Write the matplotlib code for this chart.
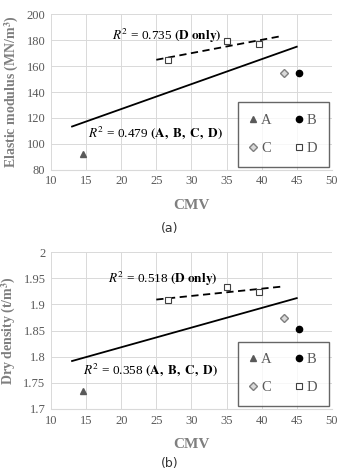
import matplotlib.pyplot as plt
import numpy as np

plt.rcParams['font.family'] = ['Liberation Serif', 'DejaVu Serif']
plt.rcParams['mathtext.fontset'] = 'stix'

# CMV per site
cmv_a = [14.6]
cmv_b = [45.3]
cmv_c = [43.2]
cmv_d = [26.6, 35.1, 39.6]

# elastic modulus (MN/m3)
ev_a = [92]
ev_b = [155]
ev_c = [155]
ev_d = [165, 179.5, 177]

# dry density (t/m3)
dd_a = [1.735]
dd_b = [1.853]
dd_c = [1.873]
dd_d = [1.908, 1.933, 1.923]

fit_all_range = [13, 45]
fit_d_range = [25, 43]

TICK_C = "#595959"
LABEL_C = "#7f7f7f"
GRID_C = "#d9d9d9"


def draw_panel(ax, ya, yb, yc, yd, ylim, yticks, ylabel, r2_d, r2_all, pos_d, pos_all):
    xs_all = cmv_a + cmv_b + cmv_c + cmv_d
    ys_all = ya + yb + yc + yd
    k, b = np.polyfit(xs_all, ys_all, 1)
    xr = np.array(fit_all_range)
    ax.plot(xr, k * xr + b, color="black", lw=1.3, zorder=2)
    kd, bd = np.polyfit(cmv_d, yd, 1)
    xr = np.array(fit_d_range)
    ax.plot(xr, kd * xr + bd, color="black", lw=1.3, ls=(0, (4, 2.5)), zorder=2)

    ha, = ax.plot(cmv_a, ya, "^", color="#595959", ms=5, ls="none", label="A", zorder=3)
    hb, = ax.plot(cmv_b, yb, "o", color="black", ms=4.5, ls="none", label="B", zorder=3)
    hc, = ax.plot(cmv_c, yc, "D", mfc="#d9d9d9", mec="#7f7f7f", ms=4, ls="none", label="C", zorder=3)
    hd, = ax.plot(cmv_d, yd, "s", mfc="white", mec="#404040", mew=0.8, ms=5, ls="none", label="D", zorder=3)

    ax.set_xlim(10, 50)
    ax.set_ylim(*ylim)
    ax.set_xticks(range(10, 51, 5))
    ax.set_yticks(yticks)
    ax.set_yticklabels([f"{v:g}" for v in yticks])
    ax.grid(True, color=GRID_C, lw=0.7)
    ax.set_axisbelow(True)
    for s in ["top", "right", "left"]:
        ax.spines[s].set_visible(False)
    ax.spines["bottom"].set_color(GRID_C)
    ax.tick_params(length=0, labelsize=9, colors=TICK_C, pad=4)
    ax.set_xlabel("CMV", fontsize=11, fontweight="bold", color=LABEL_C, labelpad=8)
    ax.set_ylabel(ylabel, fontsize=10, fontweight="bold", color=LABEL_C, labelpad=4)

    ax.text(pos_d[0], pos_d[1], r2_d, fontsize=9.5, va="center", ha="left")
    ax.text(pos_all[0], pos_all[1], r2_all, fontsize=9.5, va="center", ha="left")

    # column-wise fill: A C | B D gives rows A B / C D
    leg = ax.legend([ha, hc, hb, hd], ["A", "C", "B", "D"], ncol=2, loc="lower right",
                    bbox_to_anchor=(0.99, 0.02), fontsize=10.5,
                    frameon=True, fancybox=False, edgecolor="#404040", handlelength=0.5,
                    handletextpad=0.3, columnspacing=1.6, labelspacing=1.0,
                    borderpad=0.8, borderaxespad=0)
    leg.get_frame().set_linewidth(1.0)
    for t in leg.get_texts():
        t.set_color(TICK_C)


fig = plt.figure(figsize=(3.4, 4.72), dpi=100)
ax1 = fig.add_axes([0.15, 0.640, 0.826, 0.330])
ax2 = fig.add_axes([0.15, 0.1335, 0.826, 0.3325])

draw_panel(ax1, ev_a, ev_b, ev_c, ev_d, (80, 200), list(range(80, 201, 20)),
           r"Elastic modulus (MN/m$^\mathbf{3}$)",
           r"$R^2$ = 0.735 $\mathbf{(D\ only)}$",
           r"$R^2$ = 0.479 $\mathbf{(A,\ B,\ C,\ D)}$",
           (18.7, 183), (15.3, 108.5))
draw_panel(ax2, dd_a, dd_b, dd_c, dd_d, (1.7, 2.0), [1.7, 1.75, 1.8, 1.85, 1.9, 1.95, 2.0],
           r"Dry density (t/m$^\mathbf{3}$)",
           r"$R^2$ = 0.518 $\mathbf{(D\ only)}$",
           r"$R^2$ = 0.358 $\mathbf{(A,\ B,\ C,\ D)}$",
           (18.1, 1.948), (14.55, 1.775))

fig.text(0.5, 1 - 228 / 472, "(a)", ha="center", va="center", fontsize=9, family="DejaVu Sans", color="#333333")
fig.text(0.5, 1 - 463 / 472, "(b)", ha="center", va="center", fontsize=9, family="DejaVu Sans", color="#333333")

fig.savefig("out.png", dpi=100)
